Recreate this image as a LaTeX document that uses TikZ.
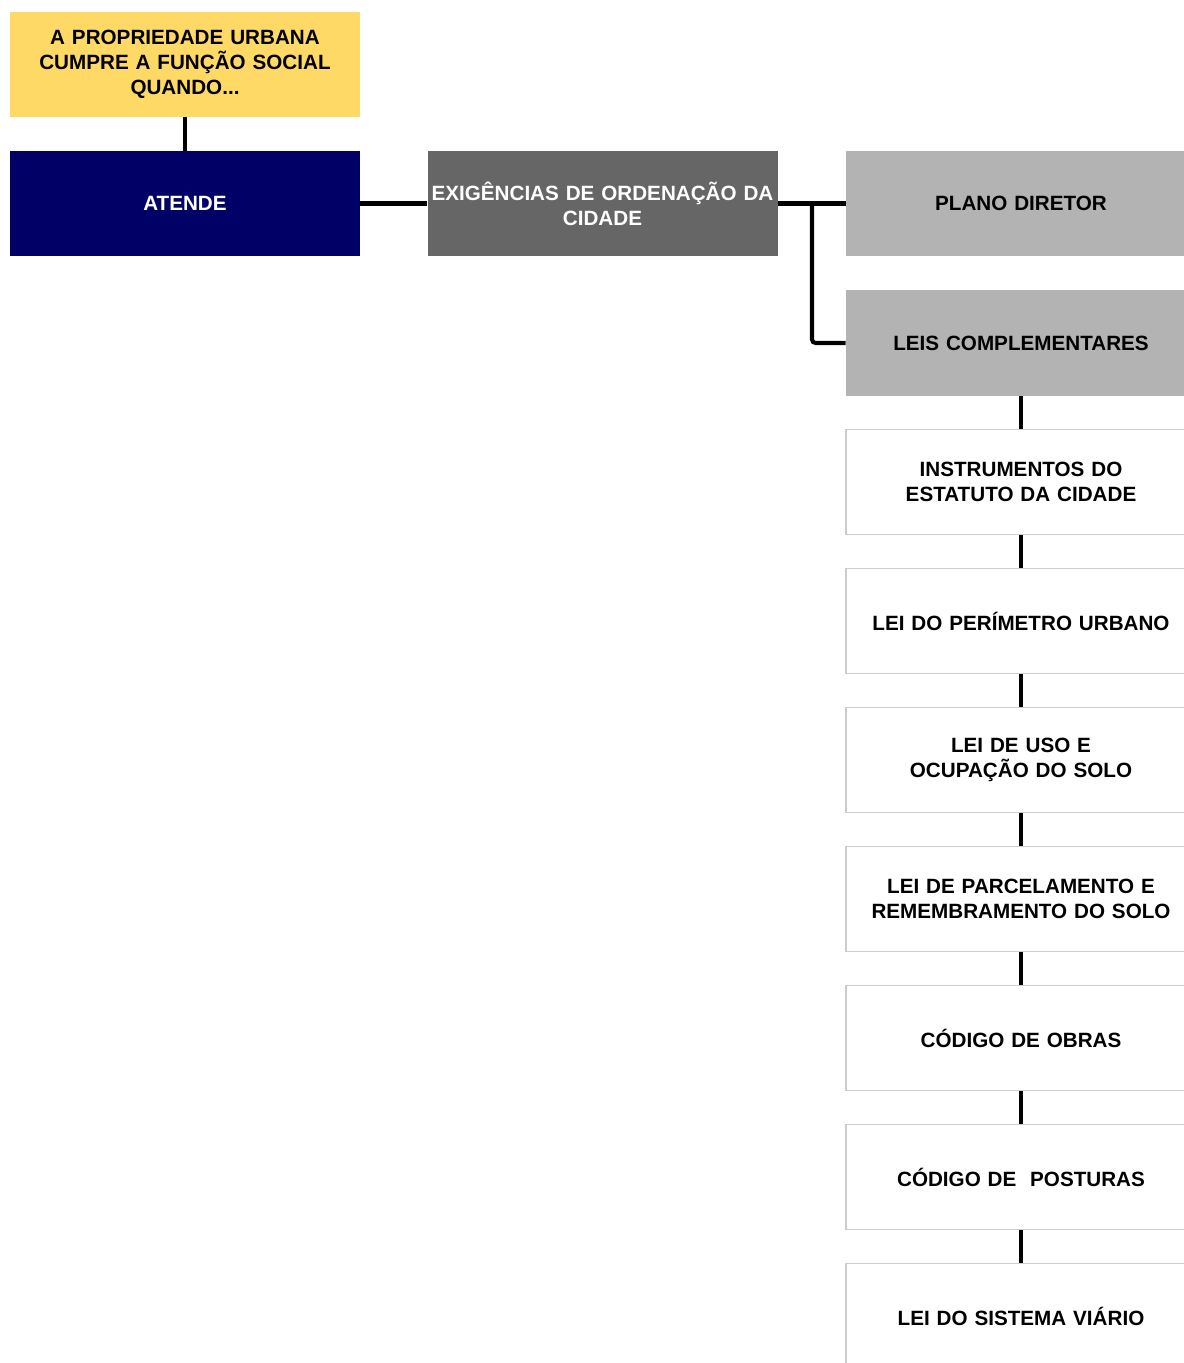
\documentclass[tikz,border=0pt]{standalone}
\usepackage{fontspec}
\setmainfont{Liberation Sans}
\usepackage{xcolor}
\definecolor{amarelo}{HTML}{FFD966}
\definecolor{marinho}{HTML}{000066}
\definecolor{cinzaesc}{HTML}{666666}
\definecolor{cinzacl}{HTML}{B3B3B3}
\definecolor{borda}{HTML}{CCCCCC}
\tikzset{
  caixa/.style={minimum width=7cm, minimum height=2.1cm, text width=6.95cm, align=center, inner sep=0pt, font=\fontsize{11.75}{14.2}\selectfont\bfseries},
  lei/.style={caixa, fill=white, draw=borda, line width=0.8pt},
  liga/.style={line width=2.3pt, black}
}
\begin{document}
\begin{tikzpicture}
\useasboundingbox (0,0) rectangle (23.68,-27.26);
\clip (0,0) rectangle (23.68,-27.26);
\node[caixa, fill=amarelo] (prop) at (3.7,-1.29) {A PROPRIEDADE URBANA\\CUMPRE A FUNÇÃO SOCIAL\\QUANDO...};
\node[caixa, fill=marinho, text=white] (atende) at (3.7,-4.07) {ATENDE};
\node[caixa, fill=cinzaesc, text=white] (exig) at (12.05,-4.07) {EXIGÊNCIAS DE ORDENAÇÃO DA\\CIDADE};
\node[caixa, fill=cinzacl] (plano) at (20.42,-4.07) {PLANO DIRETOR};
\node[caixa, fill=cinzacl] (leis) at (20.42,-6.86) {LEIS COMPLEMENTARES};

\node[lei] (instr) at (20.42,-9.64) {INSTRUMENTOS DO\\ESTATUTO DA CIDADE};
\node[lei] (perim) at (20.42,-12.42) {LEI DO PERÍMETRO URBANO};
\node[lei] (uso) at (20.42,-15.20) {LEI DE USO E\\OCUPAÇÃO DO SOLO};
\node[lei] (parc) at (20.42,-17.98) {LEI DE PARCELAMENTO E\\REMEMBRAMENTO DO SOLO};
\node[lei] (obras) at (20.42,-20.76) {CÓDIGO DE OBRAS};
\node[lei] (post) at (20.42,-23.54) {CÓDIGO DE\ \ POSTURAS};
\node[lei] (viario) at (20.42,-26.32) {LEI DO SISTEMA VIÁRIO};

\coordinate (ramo) at (16.24,-4.07);

\draw[liga] (prop) -- (atende);
\draw[liga] (atende) -- (exig);
\draw[liga] (exig) -- (plano);
\draw[liga, rounded corners=2pt] (ramo) |- (leis);

\draw[liga] (leis) -- (instr);
\draw[liga] (instr) -- (perim);
\draw[liga] (perim) -- (uso);
\draw[liga] (uso) -- (parc);
\draw[liga] (parc) -- (obras);
\draw[liga] (obras) -- (post);
\draw[liga] (post) -- (viario);
\end{tikzpicture}
\end{document}
